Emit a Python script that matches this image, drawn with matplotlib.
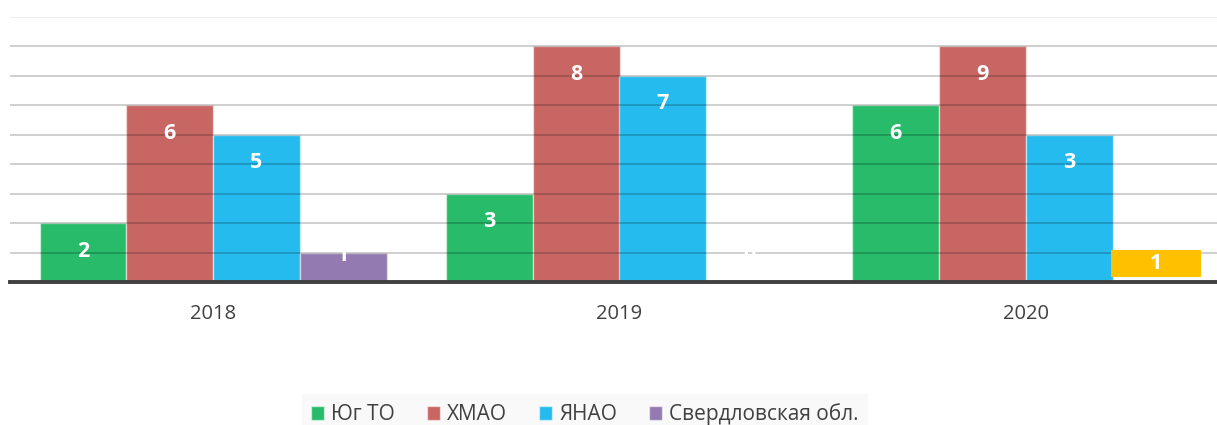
import numpy as np
import matplotlib.pyplot as plt
from matplotlib.patches import Patch

plt.rcParams['font.family'] = ['Open Sans', 'DejaVu Sans']

# data
years = ['2018', '2019', '2020']
series = ['Юг ТО', 'ХМАО', 'ЯНАО', 'Свердловская обл.']
colors = ['#27BB6A', '#C86664', '#25BBEF', '#937AB0']
heights = [
    [2, 3, 6],   # Юг ТО
    [6, 8, 8],   # ХМАО
    [5, 7, 5],   # ЯНАО
    [1, 0, 0],   # Свердловская обл.
]
labels = [
    ['2', '3', '6'],
    ['6', '8', '9'],
    ['5', '7', '3'],
    ['1', '0', ''],
]
# yellow overlay box on 2020, fourth slot
extra_year = 2
extra_bottom = 0.17
extra_top = 1.08
extra_label = '1'
extra_color = '#FFC000'

fig = plt.figure(figsize=(12.17, 4.25), dpi=100)
ax = fig.add_axes([10 / 1217, 143 / 425, 1219 / 1217, 265 / 425])

x = np.arange(len(years))
w = 0.2135
for i, (name, vals) in enumerate(zip(series, heights)):
    pos = x + (i - 1.5) * w
    ax.bar(pos, vals, width=w, color=colors[i], edgecolor=(1, 1, 1, 0.5),
           linewidth=1, zorder=2)
    for p, v, lab in zip(pos, vals, labels[i]):
        if lab:
            ax.text(p, max(v - 0.95, 0.9), lab, ha='center', va='center',
                    color='white', fontsize=15.5, fontweight='bold', zorder=5)

# yellow box
xp = x[extra_year] + 1.5 * w
ax.bar(xp, extra_top - extra_bottom, bottom=extra_bottom, width=w * 1.03,
       color=extra_color, zorder=4)
ax.text(xp, (extra_top + extra_bottom) / 2, extra_label, ha='center',
        va='center', color='white', fontsize=15.5, fontweight='bold', zorder=5)

ax.set_xlim(-0.5, 2.5)
ax.set_ylim(0, 9)
ax.set_yticks(range(1, 10))
ax.yaxis.grid(True, color='black', alpha=0.22, linewidth=1.2, zorder=3)
ax.set_axisbelow(False)
ax.get_ygridlines()[-1].set_alpha(0.09)
ax.tick_params(axis='y', left=False, labelleft=False)
ax.set_xticks(x)
ax.set_xticklabels(years, fontsize=14.5, color='#404040')
ax.tick_params(axis='x', length=0, pad=16)
for s in ['top', 'right', 'left']:
    ax.spines[s].set_visible(False)
ax.spines['bottom'].set_color('#404040')
ax.spines['bottom'].set_linewidth(2.8)
ax.spines['bottom'].set_zorder(6)

handles = [Patch(facecolor=c, edgecolor=(1, 1, 1, 0.5), label=s)
           for s, c in zip(series, colors)]
leg = fig.legend(handles=handles, ncol=4, loc='upper center',
                 bbox_to_anchor=(585 / 1217, 31 / 425), frameon=True,
                 facecolor='#F8F8F8', edgecolor='none', fancybox=False,
                 fontsize=15, handlelength=0.6, handleheight=0.6,
                 handletextpad=0.35, columnspacing=1.55, borderpad=0.45,
                 borderaxespad=0)
for t in leg.get_texts():
    t.set_color('#404040')

fig.savefig('out.png', dpi=100)
